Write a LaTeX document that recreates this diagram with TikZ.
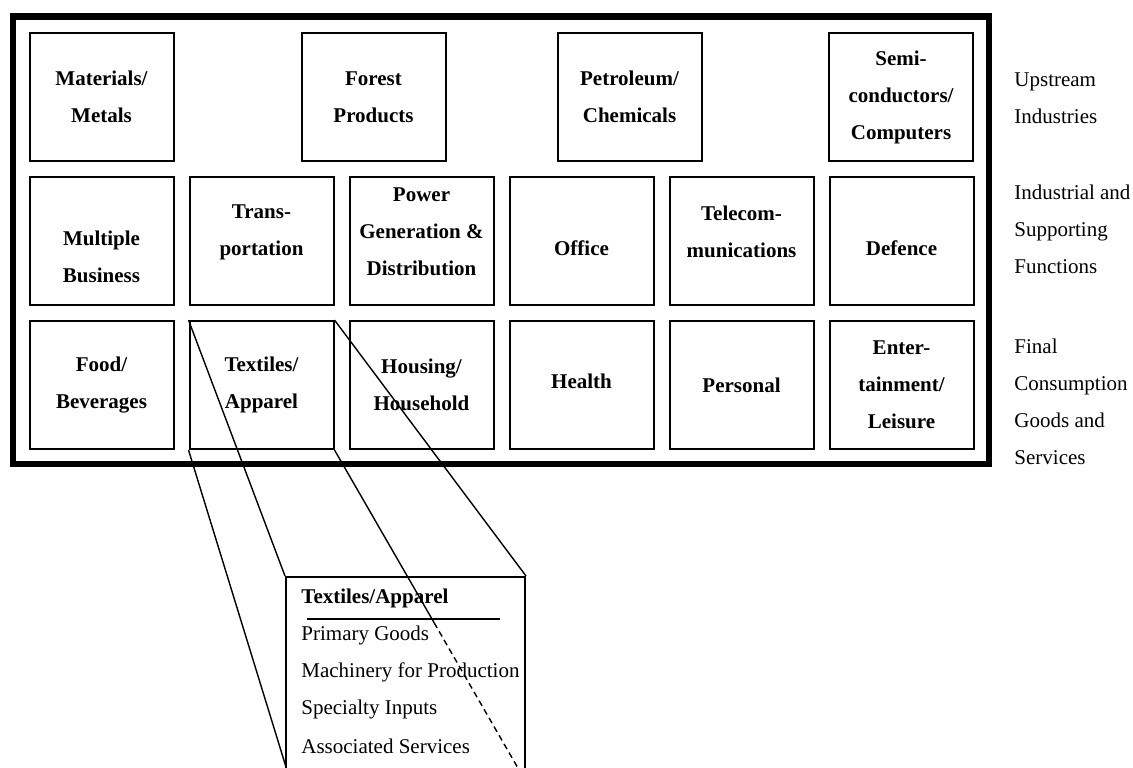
\documentclass[tikz,border=0pt]{standalone}
\usepackage{fontspec}
\setmainfont{Liberation Serif}
\usetikzlibrary{calc}

\tikzset{
  cell/.style={draw, line width=1pt, minimum width=72pt, minimum height=64pt, inner sep=0pt},
  celltext/.style={font=\fontsize{10.5pt}{18.5pt}\selectfont\bfseries, align=center, inner sep=0pt},
  rowlabel/.style={font=\fontsize{10.5pt}{18.5pt}\selectfont, align=left, anchor=west, inner sep=0pt},
  itemtext/.style={font=\fontsize{10.5pt}{18.5pt}\selectfont, anchor=west, inner sep=0pt},
  zoomline/.style={line width=0.7pt},
}

\begin{document}
\begin{tikzpicture}[x=0.5pt, y=-0.5pt]
  \useasboundingbox (0,0) rectangle (1133,767);
  \clip (0,0) rectangle (1133,767);

  % outer frame
  \draw[line width=3.25pt] (13,16.5) rectangle (989,464);

  % upstream industries
  \node[cell] (mat) at (101.5,97) {};
  \node[celltext] (mat-t) at (mat) {Materials/\\Metals};
  \node[cell] (forest) at (373.5,97) {};
  \node[celltext] (forest-t) at (forest) {Forest\\Products};
  \node[cell] (petro) at (629.5,97) {};
  \node[celltext] (petro-t) at (petro) {Petroleum/\\Chemicals};
  \node[cell] (semi) at (901,97) {};
  \node[celltext] (semi-t) at (semi) {Semi-\\conductors/\\Computers};

  % industrial and supporting functions
  \node[cell] (multi) at (101.5,241) {};
  \node[celltext, yshift=-8pt] (multi-t) at (multi) {Multiple\\Business};
  \node[cell] (trans) at (261.5,241) {};
  \node[celltext, yshift=4.5pt] (trans-t) at (trans) {Trans-\\portation};
  \node[cell] (power) at (421.5,241) {};
  \node[celltext, yshift=4.5pt] (power-t) at (power) {Power\\Generation \&\\Distribution};
  \node[cell] (office) at (581.5,241) {};
  \node[celltext, yshift=-3.5pt] (office-t) at (office) {Office};
  \node[cell] (tele) at (741.5,241) {};
  \node[celltext, yshift=4.5pt] (tele-t) at (tele) {Telecom-\\munications};
  \node[cell] (def) at (901.5,241) {};
  \node[celltext, yshift=-3.5pt] (def-t) at (def) {Defence};

  % final consumption goods and services
  \node[cell] (food) at (101.5,385) {};
  \node[celltext] (food-t) at (food) {Food/\\Beverages};
  \node[cell] (tex) at (261.5,385) {};
  \node[celltext] (tex-t) at (tex) {Textiles/\\Apparel};
  \node[cell] (house) at (421.5,385) {};
  \node[celltext] (house-t) at (house) {Housing/\\Household};
  \node[cell] (health) at (581.5,385) {};
  \node[celltext, yshift=2pt] (health-t) at (health) {Health};
  \node[cell] (pers) at (741.5,385) {};
  \node[celltext] (pers-t) at (pers) {Personal};
  \node[cell] (ent) at (901.5,385) {};
  \node[celltext] (ent-t) at (ent) {Enter-\\tainment/\\Leisure};

  % row labels
  \node[rowlabel] (up-l) at (1014,98.5) {Upstream\\Industries};
  \node[rowlabel] (ind-l) at (1014,229.5) {Industrial and\\Supporting\\Functions};
  \node[rowlabel] (fin-l) at (1014,402) {Final\\Consumption\\Goods and\\Services};

  % detail of textiles/apparel
  \node[draw, line width=1pt, minimum width=119.5pt, minimum height=102pt, inner sep=0pt] (det) at (405.5,679) {};
  \node[itemtext, font=\fontsize{10.5pt}{18.5pt}\selectfont\bfseries] (det-t) at (301,598) {Textiles/Apparel};
  \draw[line width=1pt] (307,619) -- (500,619);
  \foreach \t [count=\i] in {Primary Goods, Machinery for Production, Specialty Inputs, Associated Services}
    \node[itemtext] (item\i) at (301,{598+37*\i}) {\t};

  % zoom lines
  \coordinate (dsw) at (286,767);
  \coordinate (dmid) at ($(tex.south east)!0.52!(det.south east)$);
  \draw[zoomline] (tex.north west) -- (det.north west);
  \draw[zoomline] (tex.south west) -- (dsw);
  \draw[zoomline] (tex.north east) -- (det.north east);
  \draw[zoomline] (tex.south east) -- (dmid);
  \draw[zoomline, dash pattern=on 3pt off 2pt] (dmid) -- (det.south east);
\end{tikzpicture}
\end{document}
